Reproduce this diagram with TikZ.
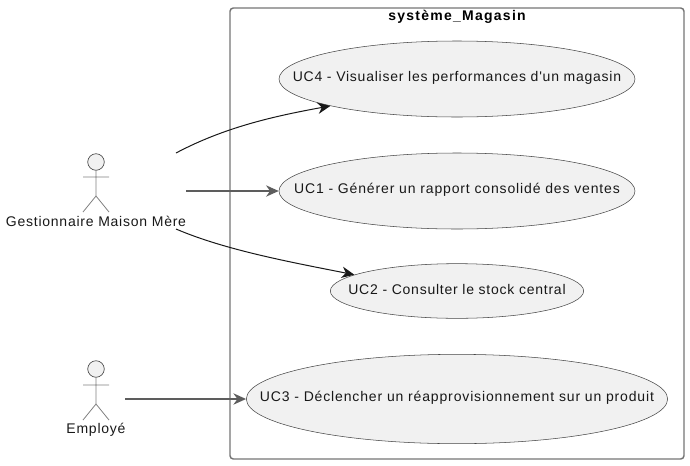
\documentclass[tikz,border=0pt]{standalone}
\usepackage{fontspec}
\setmainfont{Liberation Sans}[LetterSpace=5.4,Ligatures=TeXOff]
\newfontfamily\titlefont{Liberation Sans}[LetterSpace=9,Ligatures=TeXOff]
\newfontfamily\widefont{Liberation Sans}[LetterSpace=6.1,Ligatures=TeXOff]
\usetikzlibrary{shapes.geometric,arrows.meta}
\definecolor{ucfill}{HTML}{F1F1F1}
\definecolor{ink}{HTML}{181818}
\tikzset{
  x=0.75pt,y=-0.75pt,
  usecase/.style={ellipse,draw=ink!80,line width=0.4pt,fill=ucfill,inner sep=0pt,label={[inner sep=0pt,font=\fontsize{10.5pt}{12pt}\selectfont,text=ink,yshift=0.8pt]center:#1}},
  actorlabel/.style={inner sep=0pt,font=\fontsize{10.5pt}{12pt}\selectfont,text=ink},
  framebox/.style={draw=ink!60,line width=1.1pt,rounded corners=2.5pt},
  link/.style={draw=ink,line width=0.75pt,-{Stealth[length=9.5pt,width=8.5pt,inset=3pt]}},
  linkstraight/.style={link,draw=ink!70,line width=1pt},
  stick/.style={draw=ink!55,line width=0.6pt},
  head/.style={circle,draw=ink!80,line width=0.5pt,fill=ucfill,minimum size=12.4pt,inner sep=0pt},
}
\begin{document}
\begin{tikzpicture}
\useasboundingbox (0,0) rectangle (690,465);
\draw[framebox] (230,8) rectangle (684,459);
\node[inner sep=0pt,font=\titlefont\bfseries\fontsize{10.5pt}{12pt}\selectfont,text=black] (title) at (457,17) {système\_Magasin};
\node[usecase={UC4 - Visualiser les performances d'un magasin},minimum width=267pt,minimum height=57pt] (uc4) at (457,79) {};
\node[usecase={\widefont UC1 - Générer un rapport consolidé des ventes},minimum width=267pt,minimum height=57pt] (uc1) at (457,191) {};
\node[usecase={UC2 - Consulter le stock central},minimum width=190pt,minimum height=41pt] (uc2) at (457,291) {};
\node[usecase={\widefont UC3 - Déclencher un réapprovisionnement sur un produit},minimum width=316pt,minimum height=67pt] (uc3) at (457,399) {};
\node[head] (h1) at (96,162) {};
\coordinate (b1) at (96,196);
\coordinate (al1) at (83,177);
\coordinate (ar1) at (109,177);
\coordinate (ll1) at (83,212);
\coordinate (lr1) at (109,212);
\draw[stick] (h1) -- (b1) (al1) -- (ar1) (ll1) -- (b1) -- (lr1);
\node[actorlabel] (gest) at (96,221.5) {Gestionnaire Maison Mère};
\node[head] (h2) at (96,369) {};
\coordinate (b2) at (96,404);
\coordinate (al2) at (83,385);
\coordinate (ar2) at (109,385);
\coordinate (ll2) at (83,420);
\coordinate (lr2) at (109,420);
\draw[stick] (h2) -- (b2) (al2) -- (ar2) (ll2) -- (b2) -- (lr2);
\node[actorlabel] (emp) at (96,429.5) {Employé};
\coordinate (s4) at (176,153);
\coordinate (s1) at (186,191);
\coordinate (s2) at (176,229);
\coordinate (s3) at (125,399);
\draw[link] (s4) .. controls (225,127) and (275,116) .. (uc4.192);
\draw[linkstraight] (s1) -- (uc1);
\draw[link] (s2) .. controls (225,250) and (290,262) .. (uc2.171);
\draw[linkstraight] (s3) -- (uc3);
\end{tikzpicture}
\end{document}
